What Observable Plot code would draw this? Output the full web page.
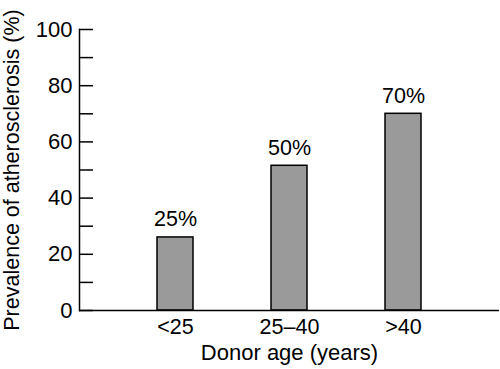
<!DOCTYPE html>
<html><head><meta charset="utf-8">
<script src="https://cdn.jsdelivr.net/npm/d3@7"></script>
<script src="https://cdn.jsdelivr.net/npm/@observablehq/plot@0.6"></script>
<style>body{margin:0;background:#fff;font-family:"Liberation Sans",Arial,sans-serif}</style>
</head><body><div id="chart"></div>
<script>
const categories = ["<25", "25\u201340", ">40"];
const prevalence = [26, 51.5, 70];
const barLabels = ["25%", "50%", "70%"];
const yLabelTicks = [0, 20, 40, 60, 80, 100];
const yAllTicks = [0, 10, 20, 30, 40, 50, 60, 70, 80, 90, 100];
const xTitle = "Donor age (years)";
const yTitle = "Prevalence of atherosclerosis (%)";

const data = categories.map((c, i) => ({cat: c, v: prevalence[i], label: barLabels[i]}));

const chart = Plot.plot({
  width: 500, height: 369,
  marginLeft: 79, marginRight: 1, marginTop: 29, marginBottom: 59,
  style: {fontFamily: '"Liberation Sans", Arial, sans-serif', fontSize: "21px", color: "#000", background: "#fff"},
  x: {type: "band", domain: categories, paddingInner: 0.684, paddingOuter: 0.684, label: null},
  y: {domain: [0, 100], label: null},
  marks: [
    Plot.barY(data, {x: "cat", y: "v", fill: "#9a9a9a", stroke: "#000", strokeWidth: 1.5}),
    Plot.text(data, {x: "cat", y: "v", text: "label", dy: -18, fontSize: 21.5, fill: "#000"}),
    Plot.axisY({ticks: yLabelTicks, tickSize: 0, tickPadding: 7, fontSize: 22, label: null}),
    Plot.axisY({ticks: yAllTicks, tickSize: -14, fill: "none", label: null, strokeWidth: 1.5}),
    Plot.axisX({tickSize: 0, tickPadding: 8, fontSize: 21.5, label: null}),
    Plot.frame({anchor: "left", strokeWidth: 1.5}),
    Plot.ruleY([0], {strokeWidth: 1.5}),
    Plot.text([xTitle], {frameAnchor: "bottom", dy: 42.5, lineAnchor: "middle", fontSize: 22, fill: "#000"}),
    Plot.text([yTitle], {frameAnchor: "left", dx: -67, rotate: -90, textAnchor: "middle", lineAnchor: "middle", fontSize: 21.5, fill: "#000"})
  ]
});
document.getElementById("chart").appendChild(chart);
</script></body></html>
